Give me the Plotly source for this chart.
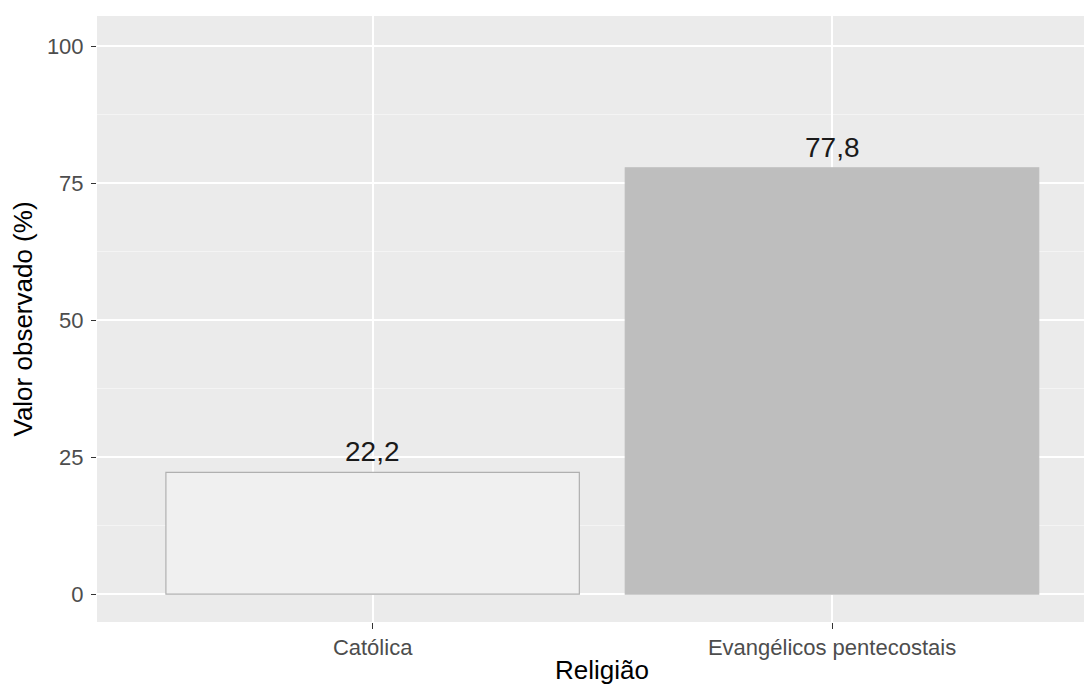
import plotly.graph_objects as go

categorias = ["Católica", "Evangélicos pentecostais"]
valores = [22.2, 77.8]
rotulos = ["22,2", "77,8"]
cores = ["#F0F0F0", "#BEBEBE"]
contornos = ["#B0B0B0", "#BEBEBE"]
y_ticks = [0, 25, 50, 75, 100]

fig = go.Figure()
fig.add_trace(go.Bar(
    x=categorias, y=valores, width=0.9,
    marker=dict(color=cores, line=dict(color=contornos, width=1.2)),
    hoverinfo="skip", showlegend=False,
))
for c, v, t in zip(categorias, valores, rotulos):
    fig.add_annotation(x=c, y=v, text=t, showarrow=False, yanchor="bottom",
                       yshift=3, font=dict(family="Liberation Sans", size=28, color="#1A1A1A"))

# x-axis title (centred on the full, uncropped panel)
fig.add_annotation(xref="paper", yref="paper", x=0.508, y=0, yanchor="bottom",
                   yshift=-65, text="Religião", showarrow=False,
                   font=dict(family="Liberation Sans", size=26, color="black"))

# page body has an 8px default margin; figure size/margins compensate for it
fig.update_layout(
    width=1084, height=680,
    margin=dict(l=89, r=0, t=8, b=66, autoexpand=False),
    paper_bgcolor="white", plot_bgcolor="#EBEBEB",
    font=dict(family="Liberation Sans"),
    bargap=0.1,
)
fig.update_xaxes(
    type="category", range=[-0.6, 1.566],
    showgrid=True, gridcolor="white", gridwidth=1.6,
    ticks="outside", ticklen=6, tickcolor="#333333", tickwidth=1.2,
    tickfont=dict(size=22, color="#4D4D4D"),
    zeroline=False, showline=False, automargin=False,
)
fig.update_yaxes(
    range=[-5.1, 105.5], tickvals=y_ticks,
    showgrid=True, gridcolor="white", gridwidth=1.6,
    minor=dict(tickvals=[12.5, 37.5, 62.5, 87.5], showgrid=True, gridcolor="#F4F4F4", gridwidth=0.8),
    ticks="outside", ticklen=5, tickcolor="#333333", tickwidth=1.2,
    ticklabelstandoff=3,
    tickfont=dict(size=22, color="#4D4D4D"),
    title=dict(text="Valor observado (%)", font=dict(size=26, color="black"), standoff=6),
    zeroline=False, showline=False, automargin=False,
)
fig.write_html("out.html")
